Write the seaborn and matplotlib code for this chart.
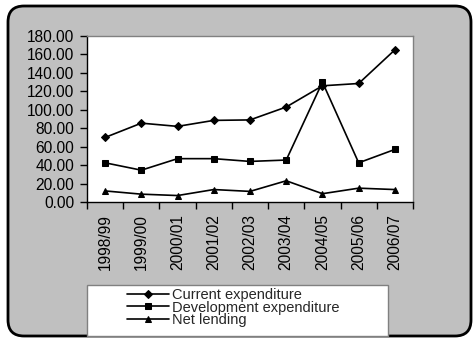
import numpy as np
import pandas as pd
import matplotlib
matplotlib.use("Agg")
import matplotlib.pyplot as plt
from matplotlib.patches import FancyBboxPatch, Rectangle
import seaborn as sns

years = ["1998/99", "1999/00", "2000/01", "2001/02", "2002/03",
         "2003/04", "2004/05", "2005/06", "2006/07"]
current_exp = [70.0, 85.5, 82.0, 88.5, 89.0, 103.0, 126.0, 128.5, 165.0]
development_exp = [42.5, 34.5, 47.0, 47.0, 44.0, 45.5, 130.0, 42.5, 57.0]
net_lending = [12.0, 8.5, 7.0, 13.5, 11.5, 23.0, 9.0, 15.0, 13.5]
series_names = ["Current expenditure", "Development expenditure", "Net lending"]
y_ticks = [0, 20, 40, 60, 80, 100, 120, 140, 160, 180]

sns.set_theme(style="white")
plt.rcParams["font.family"] = ["Liberation Sans", "DejaVu Sans"]
FS = 11.2

W, H = 474, 339
fig = plt.figure(figsize=(W / 100, H / 100), dpi=100)
fig.patch.set_facecolor("white")

# rounded grey panel behind the chart
panel = FancyBboxPatch((8, 3), 463, 330, boxstyle="round,pad=0,rounding_size=16",
                       transform=None, facecolor="#c0c0c0", edgecolor="black",
                       linewidth=2.0, zorder=-5)
fig.patches.append(panel)

ax = fig.add_axes([87 / W, (H - 202) / H, (413 - 87) / W, (202 - 36) / H])
ax.set_facecolor("white")
ax.set_zorder(1)

df = pd.DataFrame({
    "idx": np.tile(np.arange(len(years)), 3),
    "value": current_exp + development_exp + net_lending,
    "series": np.repeat(series_names, len(years)),
})

markers = {"Current expenditure": "D",
           "Development expenditure": "s",
           "Net lending": "^"}
sizes = {"Current expenditure": 5, "Development expenditure": 7, "Net lending": 7}
for name in series_names:
    sub = df[df["series"] == name]
    sns.lineplot(data=sub, x="idx", y="value", ax=ax, color="black",
                 marker=markers[name], markersize=sizes[name],
                 markeredgecolor="black", linewidth=1.2, label=name,
                 legend=False)

ax.set_xlim(-0.5, len(years) - 0.5)
ax.set_ylim(0, 180)
ax.set_yticks(y_ticks)
ax.set_yticklabels([f"{v:.2f}" for v in y_ticks], fontsize=FS, color="black")
ax.set_xticks(range(len(years)))
ax.set_xticklabels(years, rotation=90, fontsize=FS, color="black")
ax.set_xticks(np.arange(-0.5, len(years)), minor=True)
ax.tick_params(axis="x", which="major", length=0, pad=9)
ax.tick_params(axis="x", which="minor", length=5, width=1, color="black",
               direction="out", bottom=True)
ax.tick_params(axis="y", length=5, width=1, color="black", direction="out",
               left=True, pad=4)
ax.set_xlabel("")
ax.set_ylabel("")

for side in ["left", "bottom"]:
    ax.spines[side].set_color("black")
    ax.spines[side].set_linewidth(1.0)
for side in ["top", "right"]:
    ax.spines[side].set_color("#808080")
    ax.spines[side].set_linewidth(1.0)

# legend box
legend_box = Rectangle((87, H - 336), 301, 51, transform=None,
                       facecolor="white", edgecolor="#808080", linewidth=1.0,
                       zorder=2)
fig.patches.append(legend_box)

handles, labels = ax.get_legend_handles_labels()
for h in handles:
    h.set_markersize(4)
leg = fig.legend(handles, labels, loc="upper left",
                 bbox_to_anchor=(127 / W, (H - 288) / H),
                 fontsize=10.5, frameon=False,
                 handlelength=2.9, handletextpad=0.2, labelspacing=-0.1,
                 borderpad=0, borderaxespad=0)
leg.set_zorder(3)

fig.savefig("out.png", dpi=100, facecolor=fig.get_facecolor())
